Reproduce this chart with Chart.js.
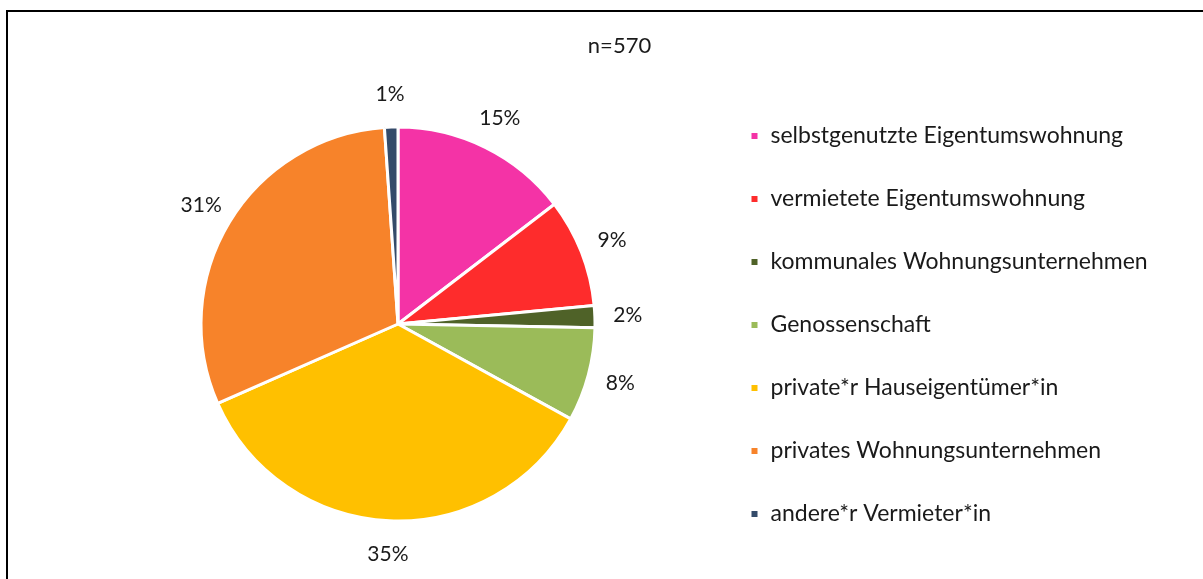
<!DOCTYPE html>
<html>
<head>
<meta charset="utf-8">
<script src="https://cdn.jsdelivr.net/npm/chart.js@4"></script>
<style>
  html, body { margin: 0; padding: 0; background: #fff; }
  body { width: 1203px; height: 579px; overflow: hidden; position: relative; }
  #frame {
    position: absolute; left: 6px; top: 10px; width: 1300px; height: 700px;
    border-left: 2px solid #000; border-top: 2px solid #000;
  }
  #wrap { position: absolute; left: 8px; top: 12px; width: 1195px; height: 567px; }
</style>
</head>
<body>
<div id="frame"></div>
<div id="wrap"><canvas id="myChart"></canvas></div>
<script>
const labels = [
    'selbstgenutzte Eigentumswohnung',
    'vermietete Eigentumswohnung',
    'kommunales Wohnungsunternehmen',
    'Genossenschaft',
    'private*r Hauseigentümer*in',
    'privates Wohnungsunternehmen',
    'andere*r Vermieter*in'
];
const shares = [14.6, 8.9, 1.8, 7.7, 35.4, 30.5, 1.1];
const colors = ['#F433A6', '#FE2C2C', '#4F6228', '#9BBB59', '#FFC000', '#F7832A', '#344B6A'];
const sampleText = 'n=570';

// percentage labels outside the slices
const outsideLabels = {
    id: 'outsideLabels',
    afterDatasetsDraw(chart){
        const ctx = chart.ctx;
        const meta = chart.getDatasetMeta(0);
        ctx.save();
        ctx.font = '21px Lato';
        ctx.fillStyle = '#1a1a1a';
        ctx.textAlign = 'center';
        ctx.textBaseline = 'middle';
        meta.data.forEach((arc, i) => {
            const p = arc.getProps(['x', 'y', 'startAngle', 'endAngle', 'outerRadius'], true);
            const mid = (p.startAngle + p.endAngle) / 2;
            const r = p.outerRadius + 33;
            ctx.fillText(Math.round(shares[i]) + '%', p.x + Math.cos(mid) * r, p.y + Math.sin(mid) * r);
        });
        ctx.restore();
    }
};

const ctx = document.getElementById('myChart').getContext('2d');
const myChart = new Chart(ctx, {
    type: 'pie',
    data: {
        labels: labels,
        datasets: [{
            data: shares,
            backgroundColor: colors,
            borderColor: '#ffffff',
            borderWidth: 3
        }]
    },
    options: {
        responsive: true,
        maintainAspectRatio: false,
        animation: false,
        radius: 197,
        layout: { padding: { left: 78, right: 50, top: 20.8, bottom: 0 } },
        plugins: {
            tooltip: { enabled: false },
            title: {
                display: true,
                text: sampleText,
                color: '#1a1a1a',
                font: { family: 'Lato', size: 22, weight: 'normal' },
                padding: { top: 0, bottom: 9.8 }
            },
            legend: {
                position: 'right',
                align: 'start',
                maxWidth: 443,
                title: {
                    display: true,
                    text: ' ',
                    font: { size: 10 },
                    padding: { top: 0, bottom: 39.7 }
                },
                labels: {
                    boxWidth: 9,
                    boxHeight: 9,
                    padding: 40,
                    color: '#1a1a1a',
                    font: { family: 'Lato', size: 23 }
                }
            }
        }
    },
    plugins: [outsideLabels]
});
</script>
</body>
</html>
